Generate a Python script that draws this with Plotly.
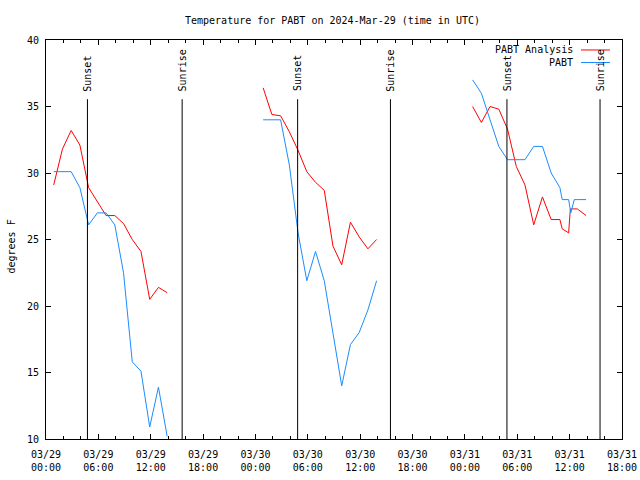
import plotly.graph_objects as go

# ---- data ----
day1 = "2024-03-29"
day2 = "2024-03-30"
day3 = "2024-03-31"
hours_std = ["00:53", "01:53", "02:53", "03:53", "04:53", "05:53", "06:53",
             "07:53", "08:53", "09:53", "10:53", "11:53", "12:53", "13:53"]

analysis_d1 = [29.1, 31.8, 33.2, 32.1, 28.9, 27.8, 26.8, 26.8, 26.2, 25.0, 24.1, 20.5, 21.4, 21.0]
obs_d1 = [30.1, 30.1, 30.1, 28.9, 26.1, 27.0, 27.0, 26.1, 22.5, 15.8, 15.1, 10.9, 13.9, 10.2]

analysis_d2 = [36.4, 34.4, 34.3, 33.1, 31.7, 30.1, 29.3, 28.7, 24.5, 23.1, 26.3, 25.2, 24.3, 25.0]
obs_d2 = [34.0, 34.0, 34.0, 30.6, 25.5, 21.9, 24.1, 21.9, 18.1, 14.0, 17.1, 18.0, 19.7, 21.9]

analysis_d3_times = ["00:53", "01:53", "02:53", "03:53", "04:53", "05:53", "06:53", "07:53",
                     "08:53", "09:53", "10:53", "11:09", "11:53", "12:05", "12:53", "13:53"]
analysis_d3 = [35.0, 33.8, 35.0, 34.8, 33.3, 30.5, 29.1, 26.1, 28.2, 26.5, 26.5, 25.8, 25.5, 27.3, 27.3, 26.8]

obs_d3_times = ["00:53", "01:53", "02:53", "03:53", "04:53", "05:53", "06:53", "07:53",
                "08:53", "09:53", "10:53", "11:09", "11:53", "12:08", "12:32", "12:53", "13:53"]
obs_d3 = [37.0, 36.0, 34.0, 32.0, 31.0, 31.0, 31.0, 32.0, 32.0, 30.0, 28.9, 28.0, 28.0, 27.0, 28.0, 28.0, 28.0]

sunset_times = ["2024-03-29 04:45", "2024-03-30 04:50", "2024-03-31 04:49"]
sunrise_times = ["2024-03-29 15:36", "2024-03-30 15:28", "2024-03-31 15:29"]

tick_vals = ["2024-03-29 00:00", "2024-03-29 06:00", "2024-03-29 12:00", "2024-03-29 18:00",
             "2024-03-30 00:00", "2024-03-30 06:00", "2024-03-30 12:00", "2024-03-30 18:00",
             "2024-03-31 00:00", "2024-03-31 06:00", "2024-03-31 12:00", "2024-03-31 18:00"]
tick_text = ["03/29<br>00:00", "03/29<br>06:00", "03/29<br>12:00", "03/29<br>18:00",
             "03/30<br>00:00", "03/30<br>06:00", "03/30<br>12:00", "03/30<br>18:00",
             "03/31<br>00:00", "03/31<br>06:00", "03/31<br>12:00", "03/31<br>18:00"]

y_ticks = [10, 15, 20, 25, 30, 35, 40]

RED = "#ff0000"
BLUE = "#1a8cff"
FONT = "DejaVu Sans Mono"


def join_days(parts):
    xs, ys = [], []
    for day, times, vals in parts:
        if xs:
            xs.append(None)
            ys.append(None)
        xs += [f"{day} {t}" for t in times]
        ys += list(vals)
    return xs, ys


ax, ay = join_days([(day1, hours_std, analysis_d1), (day2, hours_std, analysis_d2),
                    (day3, analysis_d3_times, analysis_d3)])
ox, oy = join_days([(day1, hours_std, obs_d1), (day2, hours_std, obs_d2),
                    (day3, obs_d3_times, obs_d3)])

fig = go.Figure()
fig.add_trace(go.Scatter(x=ax, y=ay, mode="lines", name="PABT Analysis",
                         line=dict(color=RED, width=1), connectgaps=False))
fig.add_trace(go.Scatter(x=ox, y=oy, mode="lines", name="PABT",
                         line=dict(color=BLUE, width=1), connectgaps=False))

sun_line_top = 35.55
sun_text_y = 36.07
for label, times in (("Sunset", sunset_times), ("Sunrise", sunrise_times)):
    for t in times:
        fig.add_shape(type="line", x0=t, x1=t, y0=10, y1=sun_line_top, xref="x", yref="y",
                      line=dict(color="black", width=1))
        fig.add_annotation(x=t, y=sun_text_y, xref="x", yref="y", text=label, textangle=-90,
                           showarrow=False, xanchor="center", yanchor="bottom",
                           font=dict(family=FONT, size=10, color="black"), borderpad=0)

# key (text left of sample, as in the reference)
for name, color, py in (("PABT Analysis", RED, 0.975), ("PABT", BLUE, 0.9436)):
    fig.add_annotation(x=0.9167, y=py, xref="paper", yref="paper", text=name, showarrow=False,
                       xanchor="right", yanchor="middle", borderpad=0,
                       font=dict(family=FONT, size=10, color="black"))
    fig.add_shape(type="line", x0=0.9288, x1=0.9792, y0=py, y1=py, xref="paper", yref="paper",
                  line=dict(color=color, width=1))

# y-axis label (pixel position converted to paper coordinates)
fig.add_annotation(x=(10.5 - 46) / 576, y=(439 - 247) / 399, xref="paper", yref="paper",
                   text="degrees F", textangle=-90, showarrow=False,
                   xanchor="center", yanchor="middle",
                   font=dict(family=FONT, size=10, color="black"), borderpad=0)

fig.update_layout(
    width=640, height=480, autosize=False,
    margin=dict(l=46, r=18, t=40, b=41, autoexpand=False),
    paper_bgcolor="white", plot_bgcolor="white",
    showlegend=False,
    font=dict(family=FONT, size=10, color="black"),
    title=dict(text="Temperature for PABT on 2024-Mar-29 (time in UTC)",
               x=332.5 / 640, xanchor="center", y=1 - 20 / 480, yanchor="middle",
               font=dict(family=FONT, size=10, color="black")),
)

fig.update_xaxes(
    type="date", range=["2024-03-29 00:00", "2024-03-31 18:00"],
    tickmode="array", tickvals=tick_vals, ticktext=tick_text,
    ticks="inside", ticklen=5, tickcolor="black", tickwidth=1,
    minor=dict(dtick=2 * 3600 * 1000, ticks="inside", ticklen=3, tickcolor="black", showgrid=False),
    showgrid=False, zeroline=False, automargin=False,
    showline=True, linecolor="black", linewidth=1, mirror="allticks",
    tickfont=dict(family=FONT, size=10, color="black"),
    ticklabelstandoff=6,
)
fig.update_yaxes(
    range=[10, 40], tickmode="array", tickvals=y_ticks,
    ticks="inside", ticklen=5, tickcolor="black", tickwidth=1,
    showgrid=False, zeroline=False, automargin=False,
    showline=True, linecolor="black", linewidth=1, mirror="allticks",
    tickfont=dict(family=FONT, size=10, color="black"),
    ticklabelstandoff=4,
)

fig.write_html("out.html", config={"displayModeBar": False},
               post_script="document.body.style.margin='0';")
